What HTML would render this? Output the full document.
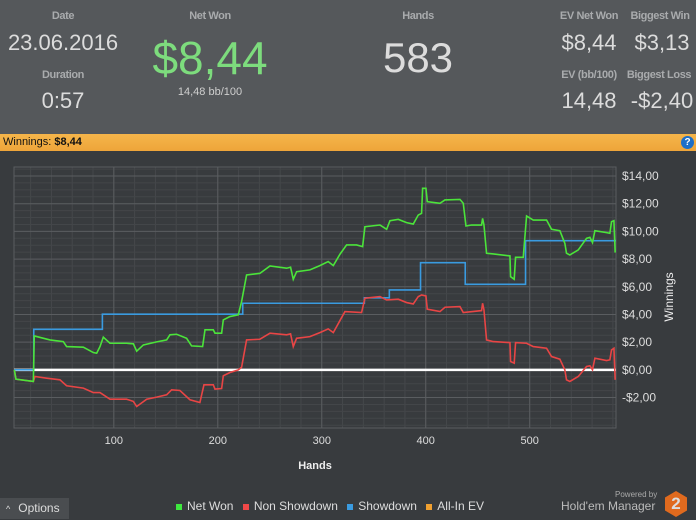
<!DOCTYPE html>
<html><head><meta charset="utf-8"><style>
body{margin:0;width:696px;height:519px;overflow:hidden;background:#383b3e;font-family:"Liberation Sans",sans-serif;position:relative}
.h{position:absolute;transform:translateX(-50%);white-space:nowrap;color:#d8d8d8}
.lbl{font-size:11px;font-weight:bold;color:#a9abad;letter-spacing:-0.4px}
.val{font-size:22px;color:#dcdcdc}
</style></head><body>
<div style="position:absolute;left:0;top:0;width:696px;height:134px;background:#55585b">
<div class="h lbl" style="left:63px;top:10px">Date</div>
<div class="h val" style="left:63px;top:30px">23.06.2016</div>
<div class="h lbl" style="left:63px;top:69px">Duration</div>
<div class="h val" style="left:63px;top:88px">0:57</div>
<div class="h lbl" style="left:210px;top:10px">Net Won</div>
<div class="h" style="left:210px;top:31px;font-size:46px;color:#7ddc7d">$8,44</div>
<div class="h" style="left:210px;top:86px;font-size:11px;color:#cfcfcf">14,48 bb/100</div>
<div class="h lbl" style="left:418px;top:10px">Hands</div>
<div class="h" style="left:418px;top:34px;font-size:42px;color:#dcdcdc">583</div>
<div class="h lbl" style="left:589px;top:10px">EV Net Won</div>
<div class="h val" style="left:589px;top:30px">$8,44</div>
<div class="h lbl" style="left:660px;top:10px">Biggest Win</div>
<div class="h val" style="left:662px;top:30px">$3,13</div>
<div class="h lbl" style="left:589px;top:69px">EV (bb/100)</div>
<div class="h val" style="left:589px;top:88px">14,48</div>
<div class="h lbl" style="left:659px;top:69px">Biggest Loss</div>
<div class="h val" style="left:662px;top:88px">-$2,40</div>
</div>
<div style="position:absolute;left:0;top:134px;width:696px;height:17px;background:linear-gradient(#f5b54a,#eea53a);font-size:11px;line-height:17px;color:#111">
<span style="margin-left:3px">Winnings: <b>$8,44</b></span>
<div style="position:absolute;right:2px;top:2px;width:13px;height:13px;border-radius:50%;background:#1e6fc8;color:#fff;font-size:10px;line-height:13px;text-align:center;font-weight:bold">?</div>
</div>
<svg id="chart" width="696" height="519" style="position:absolute;left:0;top:0"></svg>
<div style="position:absolute;left:0;top:498px;width:69px;height:21px;background:#4a4d50;color:#ddd;font-size:12px;line-height:21px"><span style="margin-left:6px;font-size:9px">^</span><span style="margin-left:8px">Options</span></div>
<div style="position:absolute;left:176px;top:499px;font-size:12px;color:#ddd;white-space:nowrap">
<span><span style="display:inline-block;width:6px;height:6px;background:#3ee83e;margin-right:5px"></span>Net Won</span>
<span style="margin-left:6px"><span style="display:inline-block;width:6px;height:6px;background:#f04848;margin-right:5px"></span>Non Showdown</span>
<span style="margin-left:6px"><span style="display:inline-block;width:6px;height:6px;background:#3a9be0;margin-right:5px"></span>Showdown</span>
<span style="margin-left:6px"><span style="display:inline-block;width:6px;height:6px;background:#f0a030;margin-right:5px"></span>All-In EV</span>
</div>
<div style="position:absolute;left:615px;top:490px;font-size:8px;color:#aaa">Powered by</div>
<div style="position:absolute;left:561px;top:499px;font-size:12px;color:#bbb">Hold'em Manager</div>
<div style="position:absolute;left:665px;top:491px;width:22px;height:26px;background:#e06a1e;clip-path:polygon(50% 0,100% 25%,100% 75%,50% 100%,0 75%,0 25%);color:#ddd;font-weight:bold;font-size:17px;text-align:center;line-height:26px">2</div>
<script>
const xTicks=[100,200,300,400,500];
const yTicks=[-2,0,2,4,6,8,10,12,14];
const netWonHands=[4.3,5.9,22.6,23.5,38.6,51.4,54.6,70.7,80.3,83.5,86.7,89.9,96.3,112.3,118.8,122,128.4,141.2,150.8,154,160.4,170,174.8,185.4,187.7,195.7,197.3,203.7,205.3,211.7,219.7,222.9,227.7,240.5,250.2,266.2,270,272.6,275.8,288.6,298.2,306.2,311.1,317.5,323.9,333.5,339.3,341.5,356,362.4,365.6,373.6,381.6,388,392.8,396,397,400.2,401.5,413.7,418.5,432.9,436.1,438.7,444.1,453.7,454.7,456,458.5,465,481,481.6,485.1,486.4,493.8,497,503.4,516.2,521,529,533.8,535.4,538.6,546.7,554.7,557.9,560.4,562.7,573.9,577.1,578.7,581,582.2];
const netWonValues=[0,-0.67,-0.84,2.45,2.16,2.04,1.68,1.64,1.25,1.2,1.68,2.36,1.92,1.92,1.88,1.35,1.8,2.02,2.16,2.53,2.57,2.28,1.73,1.68,2.89,2.89,2.65,2.65,3.61,3.85,3.97,4.93,6.85,6.97,7.5,7.34,7.41,6.54,7.09,7.22,7.53,7.82,7.53,8.35,9.02,9.02,8.9,10.34,10.46,10.15,10.77,10.87,10.63,10.53,11.18,11.3,13.11,13.11,12.15,12.03,12.27,12.31,12.03,10.39,10.46,10.46,10.94,10.46,8.42,8.37,8.23,6.73,6.54,8.13,8.13,11.11,10.82,10.82,10.15,10.05,9.14,8.42,8.3,8.66,9.5,9.57,9.19,10.05,9.91,9.86,10.7,10.77,8.47];
const nonShowdownHands=[4.3,5.9,22.6,24.2,35.4,48.2,54.6,70.7,80.3,86.7,96.3,112.3,118.8,122,131.6,141.2,150.8,155.6,163.6,173.2,182.8,186.7,195.7,197.3,203.7,205.3,211.7,219.7,222.9,227.7,240.5,250.2,266.2,270,272.6,275.8,288.6,298.2,306.2,311.1,317.5,322.3,338.3,341.5,356,362.4,373.6,381.6,388,392.8,396,400.2,401.5,413.7,418.5,432.9,436.1,453.7,454.7,456,458.5,465,481,481.6,485.1,486.4,497,503.4,516.2,521,529,533.8,535.4,538.6,546.7,554.7,557.9,560.4,562.7,573.9,577.1,578.7,581,582.2];
const nonShowdownValues=[0,-0.67,-0.84,-0.48,-0.6,-0.72,-1.15,-1.32,-1.64,-1.64,-2.12,-2.12,-2.28,-2.65,-2.12,-1.97,-1.8,-1.44,-1.49,-2.16,-2.36,-1.08,-1.08,-1.39,-1.35,-0.43,-0.19,0,0.19,2.16,2.21,2.65,2.53,2.6,1.68,2.28,2.4,2.69,2.96,2.69,3.56,4.21,4.14,5.17,5.29,5.05,5.1,4.86,4.76,5.29,5.41,5.34,4.38,4.21,4.52,4.57,4.14,4.28,4.81,4.33,2.16,2.04,1.97,0.6,0.48,1.97,1.92,1.68,1.56,0.96,0.77,0,-0.72,-0.84,-0.48,0.24,0.29,0,0.84,0.67,0.72,1.44,1.56,-0.72];
const showdownHands=[4,23,89,224,341,365,395,438,496,583];
const showdownValues=[0,2.93,4.02,4.81,5.2,5.77,7.74,6.18,9.33,9.33];

const svg=document.getElementById('chart');
const NS='http://www.w3.org/2000/svg';
const L=14,R=616,T=167,B=428,xMin=4,xMax=583,yMin=-4.2,yMax=14.65;
const X=h=>L+(h-xMin)/(xMax-xMin)*(R-L);
const Y=v=>B-(v-yMin)/(yMax-yMin)*(B-T);
function mk(tag,attrs){const e=document.createElementNS(NS,tag);for(const k in attrs)e.setAttribute(k,attrs[k]);svg.appendChild(e);return e;}
for(let h=20;h<xMax;h+=20){const e=mk('line',{x1:X(h),x2:X(h),y1:T,y2:B,stroke:'#45484b','stroke-width':1});

}
for(let v=-4;v<=14.5;v+=0.5){const e=mk('line',{x1:L,x2:R,y1:Y(v),y2:Y(v),stroke:'#434649','stroke-width':1});

}
xTicks.forEach(t=>{const e=mk('line',{x1:X(t),x2:X(t),y1:T,y2:B,stroke:'#5a5d60','stroke-width':1});


const tx=mk('text',{x:X(t),y:444,fill:'#ddd','font-size':11,'text-anchor':'middle','font-family':'Liberation Sans'});tx.textContent=t;

});
yTicks.forEach(t=>{const e=mk('line',{x1:L,x2:R,y1:Y(t),y2:Y(t),stroke:'#5a5d60','stroke-width':1});


const tx=mk('text',{x:622,y:Y(t)+4,fill:'#ddd','font-size':12,'font-family':'Liberation Sans'});tx.textContent=(t<0?'-$':'$')+Math.abs(t).toFixed(2).replace('.',',');

});
const frame=mk('rect',{x:L,y:T,width:R-L,height:B-T,fill:'none',stroke:'#5a5d60'});


const zl=mk('line',{x1:L,x2:R,y1:Y(0),y2:Y(0),stroke:'#fff','stroke-width':2.5});


function line(hs,vs,color,step,name){let d='';for(let i=0;i<hs.length;i++){if(i===0)d='M'+X(hs[0])+','+Y(vs[0]);else if(step)d+='H'+X(hs[i])+'V'+Y(vs[i]);else d+='L'+X(hs[i])+','+Y(vs[i]);}
const p=mk('path',{d:d,fill:'none',stroke:color,'stroke-width':1.6});

}
line(showdownHands,showdownValues,'#3a9be0',true,'showdown-line');
line(nonShowdownHands,nonShowdownValues,'#e84545',false,'non-showdown-line');
line(netWonHands,netWonValues,'#4be43a',false,'net-won-line');
const xt=mk('text',{x:315,y:469,fill:'#eee','font-size':11,'font-weight':'bold','text-anchor':'middle','font-family':'Liberation Sans'});xt.textContent='Hands';


const yt=mk('text',{x:0,y:0,fill:'#eee','font-size':12,'text-anchor':'middle','font-family':'Liberation Sans',transform:'translate(673,297) rotate(-90)'});yt.textContent='Winnings';


</script>
</body></html>
